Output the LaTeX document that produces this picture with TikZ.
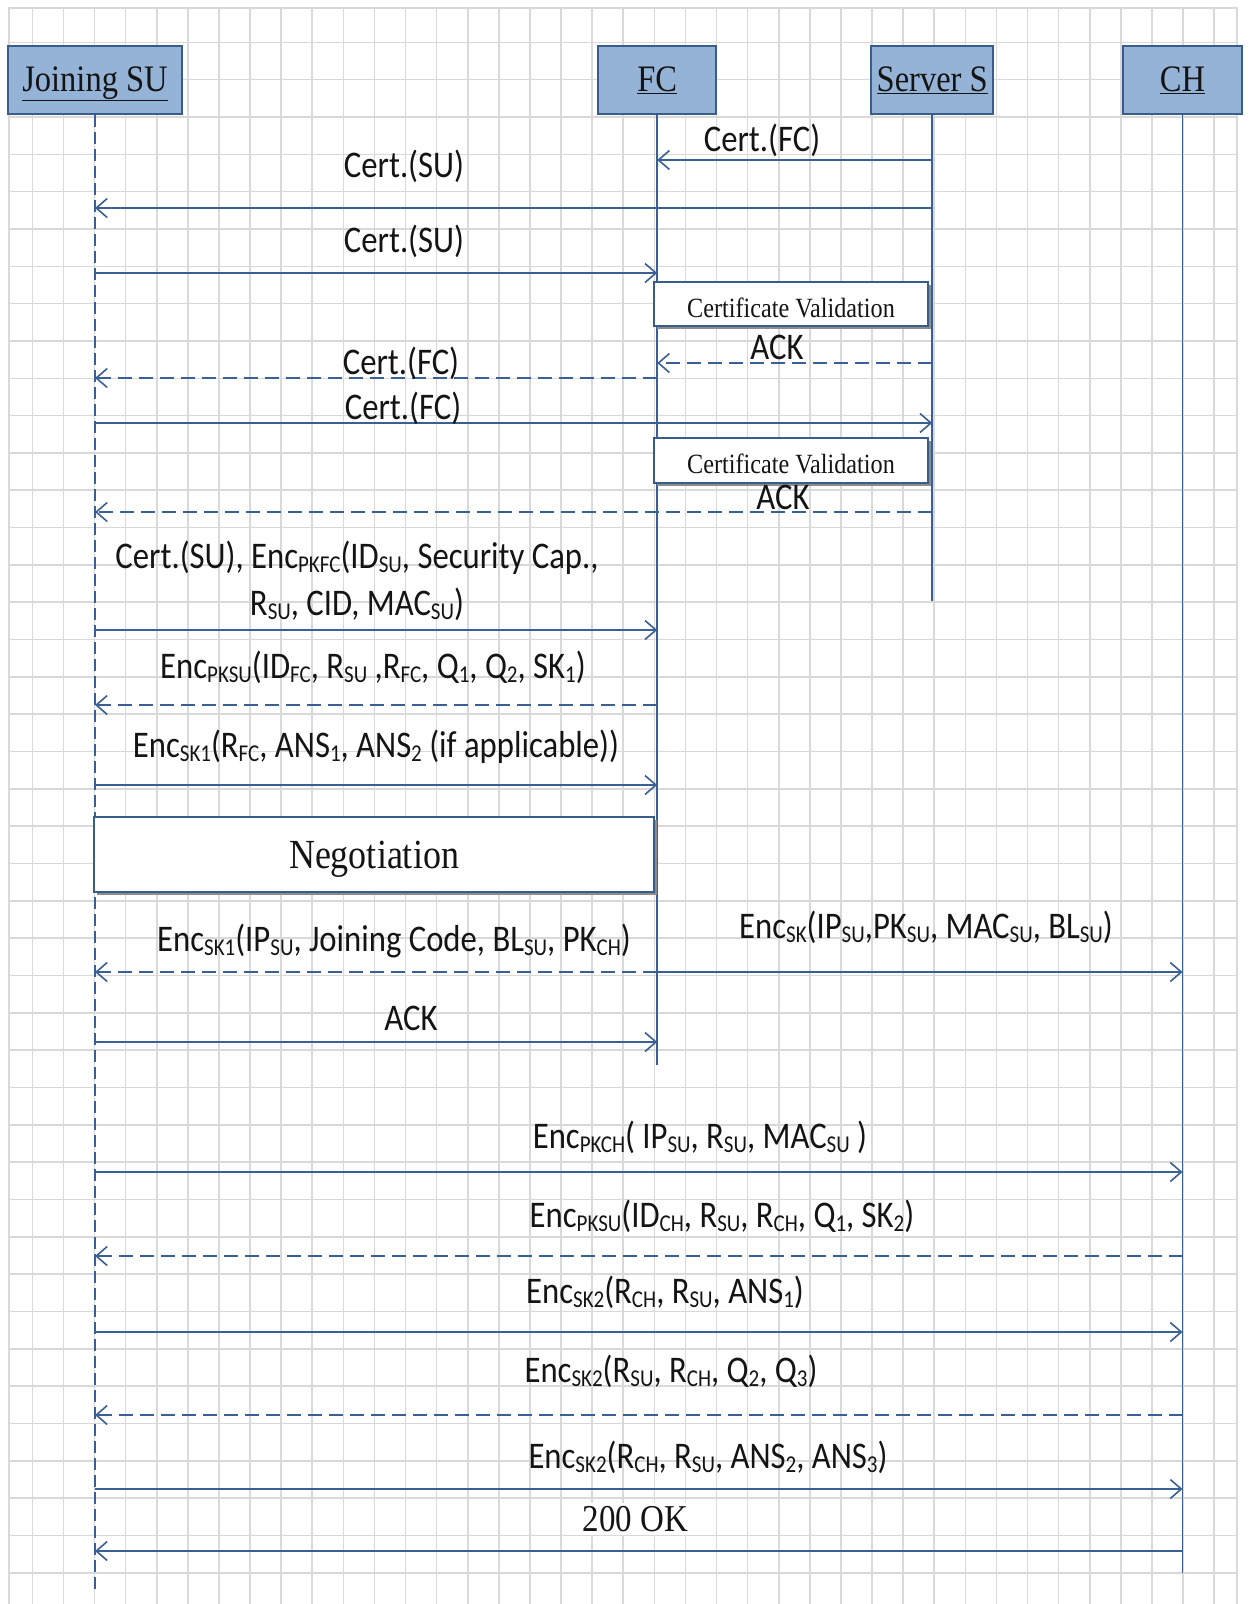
\documentclass[tikz,border=0pt]{standalone}
\usepackage{fontspec}
\setmainfont{Liberation Serif}
\newfontfamily\calfont{Carlito}
\usetikzlibrary{arrows.meta}
\definecolor{gridc}{HTML}{D9D9D9}
\definecolor{boxfill}{HTML}{95B3D7}
\definecolor{boxline}{HTML}{385D8A}
\definecolor{linec}{HTML}{3A5F94}
\definecolor{txtc}{HTML}{141414}
\definecolor{shadowc}{HTML}{8C8C8C}
\newcommand\tx[1]{\scalebox{1}[1.15]{#1}}
\newcommand\sbs[1]{\raisebox{-0.12em}{\fontsize{21}{22}\selectfont #1}}
\begin{document}
\begin{tikzpicture}[x=1pt,y=-1pt,
  actor/.style={draw=boxline, line width=2pt, fill=boxfill, minimum height=68pt,
    inner sep=0pt, text height=22pt, text depth=0pt, text=txtc,
    font=\fontsize{32.5}{36}\selectfont},
  life/.style={draw=linec, line width=1.8pt},
  msg/.style={draw=linec, line width=2pt,
    -{Straight Barb[length=11pt,width=19pt,line width=1.6pt]}},
  rmsg/.style={msg, dash pattern=on 14pt off 7pt},
  lbl/.style={anchor=base, inner sep=0pt, text=txtc,
    font=\calfont\fontsize{32.7}{38}\selectfont},
  procbox/.style={draw=boxline, line width=2pt, fill=white, inner sep=0pt, text=txtc},
  gridline/.style={draw=gridc, line width=1.6pt}
]
\useasboundingbox (0,0) rectangle (1249,1604);
\fill[white] (0,0) rectangle (1249,1604);
% grid
\foreach \k in {1,...,39} \draw[gridline] ({1.2+31.1*\k},8) -- ({1.2+31.1*\k},1604);
\foreach \k in {1,...,42} \draw[gridline] (9,{5+37.33*\k}) -- (1237,{5+37.33*\k});
\draw[gridline] (9,1604) -- (9,8) -- (1237,8) -- (1237,1604);

% actors
\node[actor, minimum width=174pt] (su) at (95,80) {\tx{\underline{Joining SU}}};
\node[actor, minimum width=118.5pt] (fc) at (657.2,80) {\tx{\underline{FC}}};
\node[actor, minimum width=121.6pt] (srv) at (932.2,80) {\tx{\underline{Server S}}};
\node[actor, minimum width=119pt] (ch) at (1182.5,80) {\tx{\underline{CH}}};

% lifelines
\draw[life, dash pattern=on 12pt off 5pt] (su.south) -- (su.south |- 0,1592);
\draw[life] (fc.south) -- (fc.south |- 0,1065);
\draw[life] (srv.south) -- (srv.south |- 0,601);
\draw[life] (ch.south) -- (ch.south |- 0,1573);

% certificate validation boxes
\fill[shadowc] (657,285) rectangle (931,329);
\node[procbox, minimum width=274pt, minimum height=44pt, text height=26pt, text depth=0pt,
  font=\fontsize{24.2}{28}\selectfont] (cv1) at (791,304) {\tx{Certificate Validation}};
\fill[shadowc] (657,441) rectangle (931,486);
\node[procbox, minimum width=274pt, minimum height=45pt, text height=26pt, text depth=0pt,
  font=\fontsize{24.2}{28}\selectfont] (cv2) at (791,460.5) {\tx{Certificate Validation}};

% negotiation box
\fill[shadowc] (97,820) rectangle (657,895);
\node[procbox, minimum width=560pt, minimum height=75pt, text height=28pt, text depth=0.4pt,
  font=\fontsize{36}{40}\selectfont] (neg) at (374,854.5) {\tx{Negotiation}};

% messages
\draw[msg] (srv |- 0,160) -- (fc |- 0,160);
\node[lbl] (l1) at (762,151) {\tx{Cert.(FC)}};
\draw[msg] (srv |- 0,208) -- (su |- 0,208);
\node[lbl] (l2) at (404,177) {\tx{Cert.(SU)}};
\draw[msg] (su |- 0,273) -- (fc |- 0,273);
\node[lbl] (l3) at (404,252) {\tx{Cert.(SU)}};
\draw[rmsg] (srv |- 0,363) -- (fc |- 0,363);
\node[lbl] (l5) at (777,359) {\tx{ACK}};
\draw[rmsg] (fc |- 0,378) -- (su |- 0,378);
\node[lbl] (l6) at (401,374) {\tx{Cert.(FC)}};
\draw[msg] (su |- 0,423) -- (srv |- 0,423);
\node[lbl] (l7) at (403,419) {\tx{Cert.(FC)}};
\draw[rmsg] (srv |- 0,512) -- (su |- 0,512);
\node[lbl] (l9) at (783,509) {\tx{ACK}};

\draw[msg] (su |- 0,630) -- (fc |- 0,630);
\node[lbl] (l10a) at (357,568) {\tx{Cert.(SU), Enc\sbs{PKFC}(ID\sbs{SU}, Security Cap.,}};
\node[lbl] (l10b) at (357,615) {\tx{R\sbs{SU}, CID, MAC\sbs{SU})}};
\draw[rmsg] (fc |- 0,705) -- (su |- 0,705);
\node[lbl] (l11) at (373,678) {\tx{Enc\sbs{PKSU}(ID\sbs{FC}, R\sbs{SU} ,R\sbs{FC}, Q\sbs{1}, Q\sbs{2}, SK\sbs{1})}};
\draw[msg] (su |- 0,785) -- (fc |- 0,785);
\node[lbl] (l12) at (376,757) {\tx{Enc\sbs{SK1}(R\sbs{FC}, ANS\sbs{1}, ANS\sbs{2} (if applicable))}};

\draw[rmsg] (fc |- 0,972) -- (su |- 0,972);
\node[lbl] (l14) at (394,951) {\tx{Enc\sbs{SK1}(IP\sbs{SU}, Joining Code, BL\sbs{SU}, PK\sbs{CH})}};
\draw[msg] (fc |- 0,972) -- (ch |- 0,972);
\node[lbl] (l15) at (926,938) {\tx{Enc\sbs{SK}(IP\sbs{SU},PK\sbs{SU}, MAC\sbs{SU}, BL\sbs{SU})}};
\draw[msg] (su |- 0,1042) -- (fc |- 0,1042);
\node[lbl] (l16) at (411,1030) {\tx{ACK}};

\draw[msg] (su |- 0,1172) -- (ch |- 0,1172);
\node[lbl] (l17) at (700,1148) {\tx{Enc\sbs{PKCH}( IP\sbs{SU}, R\sbs{SU}, MAC\sbs{SU} )}};
\draw[rmsg] (ch |- 0,1256) -- (su |- 0,1256);
\node[lbl] (l18) at (722,1227) {\tx{Enc\sbs{PKSU}(ID\sbs{CH}, R\sbs{SU}, R\sbs{CH}, Q\sbs{1}, SK\sbs{2})}};
\draw[msg] (su |- 0,1332) -- (ch |- 0,1332);
\node[lbl] (l19) at (665,1303) {\tx{Enc\sbs{SK2}(R\sbs{CH}, R\sbs{SU}, ANS\sbs{1})}};
\draw[rmsg] (ch |- 0,1415) -- (su |- 0,1415);
\node[lbl] (l20) at (671,1382) {\tx{Enc\sbs{SK2}(R\sbs{SU}, R\sbs{CH}, Q\sbs{2}, Q\sbs{3})}};
\draw[msg] (su |- 0,1489) -- (ch |- 0,1489);
\node[lbl] (l21) at (708,1468) {\tx{Enc\sbs{SK2}(R\sbs{CH}, R\sbs{SU}, ANS\sbs{2}, ANS\sbs{3})}};
\draw[msg] (ch |- 0,1551) -- (su |- 0,1551);
\node[lbl, fill=white, inner sep=3pt, font=\fontsize{33}{36}\selectfont] (l22) at (635.5,1531.7) {\tx{200 OK}};
\end{tikzpicture}
\end{document}
